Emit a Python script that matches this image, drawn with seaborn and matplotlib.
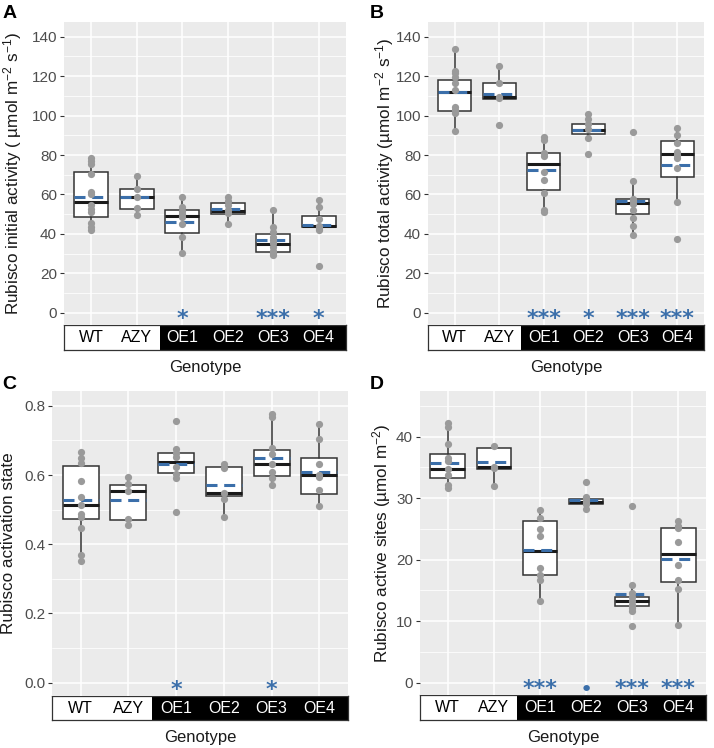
import matplotlib
matplotlib.use("Agg")
import matplotlib.pyplot as plt
import matplotlib.transforms as mtransforms
import pandas as pd
import seaborn as sns

genotypes = ["WT", "AZY", "OE1", "OE2", "OE3", "OE4"]

# A: Rubisco initial activity
a_points = [
    [78.3, 77.0, 75.5, 70.4, 61.5, 60.5, 54.5, 52.5, 51.0, 45.3, 43.3, 42.0],
    [69.3, 62.7, 58.9, 53.0, 49.6],
    [58.5, 53.5, 51.8, 50.1, 48.5, 45.0, 38.6, 30.4],
    [58.5, 56.7, 54.6, 52.1, 50.7, 44.8],
    [52.1, 43.3, 41.1, 38.6, 36.9, 35.2, 33.5, 31.3, 30.1, 29.3],
    [57.2, 53.8, 47.5, 44.0, 42.8, 42.0, 23.7],
]
a_q1 = [48.4, 52.8, 40.3, 50.1, 31.0, 43.3]
a_med = [56.3, 58.9, 49.1, 51.8, 34.8, 44.1]
a_q3 = [71.2, 62.6, 52.1, 55.5, 40.0, 49.1]
a_lo = [42.0, 49.6, 30.4, 44.8, 29.3, 42.0]
a_hi = [78.3, 69.3, 58.5, 58.5, 52.1, 57.2]
a_mean = [58.5, 58.9, 46.0, 52.6, 36.9, 44.5]
a_sig = ["", "", "*", "", "***", "*"]

# B: Rubisco total activity
b_points = [
    [134.0, 122.7, 121.4, 119.7, 116.6, 112.9, 104.4, 102.7, 101.1, 92.1],
    [125.2, 116.6, 109.5, 108.7, 95.5],
    [89.2, 87.8, 80.8, 79.4, 71.5, 67.2, 60.8, 52.0, 51.2],
    [100.6, 98.5, 96.0, 93.0, 88.9, 80.4],
    [91.8, 66.7, 57.9, 56.7, 55.4, 52.0, 48.3, 43.9, 39.3],
    [93.8, 90.4, 86.2, 81.6, 79.9, 78.7, 73.2, 56.2, 37.3],
]
b_q1 = [102.4, 108.5, 62.5, 90.6, 50.3, 68.9]
b_med = [112.2, 109.3, 75.7, 92.9, 55.9, 80.3]
b_q3 = [118.3, 116.6, 80.8, 95.6, 57.6, 87.0]
b_lo = [92.1, 108.5, 51.2, 88.9, 39.3, 56.2]
b_hi = [134.0, 125.2, 89.2, 100.6, 66.7, 93.8]
b_mean = [111.9, 111.2, 72.3, 92.6, 56.7, 74.9]
b_sig = ["", "", "***", "*", "***", "***"]

# C: Rubisco activation state
c_points = [
    [0.668, 0.649, 0.636, 0.583, 0.537, 0.513, 0.487, 0.479, 0.446, 0.369, 0.352],
    [0.593, 0.574, 0.555, 0.472, 0.456],
    [0.757, 0.675, 0.663, 0.651, 0.622, 0.603, 0.591, 0.494],
    [0.631, 0.620, 0.549, 0.530, 0.479],
    [0.777, 0.768, 0.677, 0.662, 0.631, 0.610, 0.591, 0.571],
    [0.749, 0.704, 0.633, 0.601, 0.593, 0.556, 0.510],
]
c_q1 = [0.474, 0.471, 0.605, 0.538, 0.598, 0.545]
c_med = [0.514, 0.555, 0.638, 0.549, 0.631, 0.601]
c_q3 = [0.627, 0.572, 0.664, 0.622, 0.672, 0.649]
c_lo = [0.352, 0.456, 0.591, 0.479, 0.571, 0.510]
c_hi = [0.668, 0.593, 0.675, 0.631, 0.777, 0.749]
c_mean = [0.527, 0.529, 0.633, 0.570, 0.649, 0.610]
c_sig = ["", "", "*", "", "*", ""]

# D: Rubisco active sites
d_points = [
    [42.2, 41.6, 38.8, 36.5, 36.1, 34.7, 33.8, 32.1, 31.6],
    [38.5, 35.1, 34.9, 32.0],
    [28.0, 26.8, 24.9, 23.9, 18.7, 17.5, 16.7, 13.2],
    [32.6, 30.2, 29.8, 29.4, 29.0, 28.3],
    [28.7, 15.9, 14.6, 14.0, 13.2, 12.7, 12.2, 11.7, 9.2],
    [26.3, 25.5, 25.1, 22.9, 19.1, 16.7, 15.3, 9.3],
]
d_q1 = [33.2, 34.8, 17.5, 29.0, 12.4, 16.4]
d_med = [34.7, 35.0, 21.4, 29.3, 13.2, 20.9]
d_q3 = [37.2, 38.2, 26.3, 29.9, 13.9, 25.1]
d_lo = [31.6, 32.0, 13.2, 28.3, 11.7, 9.3]
d_hi = [42.2, 38.5, 28.0, 30.2, 15.9, 26.3]
d_mean = [35.7, 35.8, 21.5, 29.7, 14.4, 20.1]
d_sig = ["", "", "***", "\u2022", "***", "***"]

sns.set_theme(style="darkgrid", rc={"axes.facecolor": "#EBEBEB", "grid.color": "white",
                                    "mathtext.default": "regular"})
plt.rcParams["font.family"] = ["Liberation Sans", "DejaVu Sans"]

BLUE = "#3B6FAA"
W, H = 714, 748
fig = plt.figure(figsize=(W / 100, H / 100), dpi=100)


def rect(left, top, right, bottom):
    return [left / W, 1 - bottom / H, (right - left) / W, (bottom - top) / H]


def panel(box, strip_box, points, q1, med, q3, lo, hi, mean, sig,
          ylim, major, minor, ticklabels, ylabel, ylabel_x, letter, letter_xy):
    ax = fig.add_axes(rect(*box))
    ax.set_zorder(3)
    df = pd.DataFrame([(g, v) for g, vals in zip(genotypes, points) for v in vals],
                      columns=["Genotype", "value"])

    stats = [dict(med=m, q1=a, q3=b, whislo=l, whishi=h, fliers=[])
             for m, a, b, l, h in zip(med, q1, q3, lo, hi)]
    ax.bxp(stats, positions=range(len(genotypes)), widths=0.75, patch_artist=True,
           showfliers=False, showcaps=False, manage_ticks=False,
           boxprops=dict(facecolor="white", edgecolor="#333333", linewidth=1.1),
           whiskerprops=dict(color="#333333", linewidth=1.1),
           medianprops=dict(color="#1a1a1a", linewidth=2.2))
    pos = list(range(len(genotypes)))
    ax.hlines(mean, [p - 0.375 for p in pos], [p + 0.375 for p in pos],
              colors=BLUE, linewidth=2.2, linestyles=(0, (3.6, 2.2)), zorder=3)
    sns.stripplot(data=df, x="Genotype", y="value", order=genotypes, jitter=False,
                  color="#9A9A9A", size=5.2, linewidth=0, ax=ax, zorder=4)

    ax.set_xlim(-0.6, len(genotypes) - 0.4)
    ax.set_ylim(*ylim)
    ax.set_yticks(major)
    ax.set_yticklabels(ticklabels)
    ax.set_yticks(minor, minor=True)
    ax.set_xticks(pos)
    ax.set_axisbelow(True)
    ax.grid(which="major", color="white", linewidth=1.1)
    ax.grid(which="minor", axis="y", color="white", linewidth=0.55)
    ax.tick_params(axis="x", length=0, labelbottom=False)
    ax.tick_params(axis="y", which="major", length=3, width=0.8, color="#333333",
                   labelcolor="#4D4D4D", labelsize=11, pad=2, left=True)
    ax.tick_params(axis="y", which="minor", length=0)
    ax.set_xlabel("")
    ax.set_ylabel("")
    for s in ax.spines.values():
        s.set_visible(False)

    for p, s in zip(pos, sig):
        if not s:
            continue
        if s == "*" * len(s):
            size, dy, weight = 16, 0, "bold"
        else:
            size, dy, weight = 16, -1, "normal"
        trans = mtransforms.blended_transform_factory(ax.transData, ax.transAxes) + \
            mtransforms.ScaledTranslation(0, dy / 100, fig.dpi_scale_trans)
        ax.text(p, 0, s, transform=trans, ha="center", va="baseline", color=BLUE,
                fontsize=size, fontweight=weight, family="DejaVu Sans", clip_on=False)

    fig.text(ylabel_x / W, 1 - (box[1] + box[3]) / 2 / H, ylabel, rotation=90,
             ha="center", va="center", fontsize=12.3, color="#1a1a1a")
    fig.text(letter_xy[0] / W, 1 - letter_xy[1] / H, letter, fontsize=14,
             fontweight="bold", ha="left", va="top", color="black")

    sx = fig.add_axes(rect(*strip_box))
    sx.set_zorder(1)
    sx.set_xlim(ax.get_xlim())
    sx.set_ylim(0, 1)
    sx.set_facecolor("white")
    sx.axvspan(1.5, len(genotypes) - 0.4, color="black", lw=0)
    for p, g in zip(pos, genotypes):
        sx.text(p, 0.48, g, ha="center", va="center", fontsize=11.5,
                color="black" if p < 2 else "white")
    sx.set_xticks([])
    sx.set_yticks([])
    sx.grid(False)
    for s in sx.spines.values():
        s.set_visible(True)
        s.set_color("#333333")
        s.set_linewidth(0.9)
    sx.set_xlabel("Genotype", fontsize=12, labelpad=7, color="#1a1a1a")
    return ax


panel((64, 22, 346, 325), (64, 325, 346, 350), a_points, a_q1, a_med, a_q3, a_lo, a_hi,
      a_mean, a_sig, (-6.2, 147.5), list(range(0, 141, 20)), list(range(10, 131, 20)),
      [str(v) for v in range(0, 141, 20)],
      "Rubisco initial activity ( \u00b5mol m$^{-2}$ s$^{-1}$)", 13, "A", (3, 5))

panel((428, 22, 704, 325), (428, 325, 704, 350), b_points, b_q1, b_med, b_q3, b_lo, b_hi,
      b_mean, b_sig, (-6.2, 147.5), list(range(0, 141, 20)), list(range(10, 131, 20)),
      [str(v) for v in range(0, 141, 20)],
      "Rubisco total activity (\u00b5mol m$^{-2}$ s$^{-1}$)", 385, "B", (370, 5))

panel((52, 391, 348, 696), (52, 696, 348, 720), c_points, c_q1, c_med, c_q3, c_lo, c_hi,
      c_mean, c_sig, (-0.039, 0.843), [0.0, 0.2, 0.4, 0.6, 0.8], [0.1, 0.3, 0.5, 0.7],
      ["0.0", "0.2", "0.4", "0.6", "0.8"],
      "Rubisco activation state", 9, "C", (2, 376))

panel((420, 391, 706, 695), (420, 695, 706, 720), d_points, d_q1, d_med, d_q3, d_lo, d_hi,
      d_mean, d_sig, (-2.0, 47.4), [0, 10, 20, 30, 40], [5, 15, 25, 35, 45],
      ["0", "10", "20", "30", "40"],
      "Rubisco active sites (\u00b5mol m$^{-2}$)", 382, "D", (370, 376))

fig.savefig("out.png", dpi=100)
